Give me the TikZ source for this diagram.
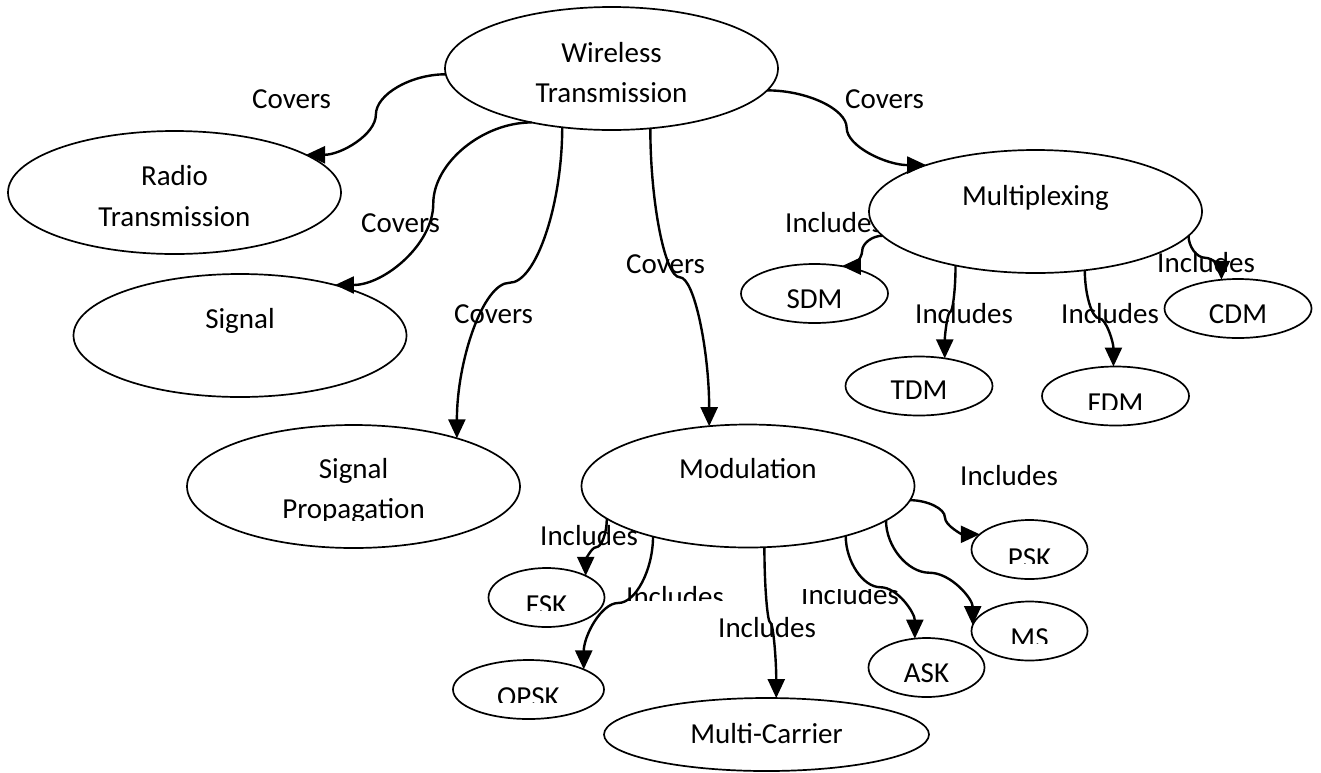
\documentclass[tikz,border=0pt]{standalone}
\usepackage{fontspec}
\setmainfont{Carlito}
\usetikzlibrary{arrows.meta,calc,shapes.geometric}

\tikzset{
  bubble/.style={ellipse, draw, line width=1.7pt, fill=white, inner sep=0pt, outer sep=0pt},
  big/.style={bubble, minimum width=333pt, minimum height=123pt},
  small/.style={bubble, minimum width=147pt, minimum height=59pt},
  tiny/.style={bubble, minimum width=116pt, minimum height=59pt},
  txt/.style={anchor=base, inner sep=0pt, font=\fontsize{29}{40}\selectfont},
  lbl/.style={anchor=base west, inner sep=0pt, font=\fontsize{29}{40}\selectfont},
  link/.style={line width=2.4pt, -{Triangle[length=19pt,width=17pt]}},
  % curved connector: horizontal at both ends, vertical in the middle
  hvh/.style={to path={let \p1=(\tikztostart), \p2=(\tikztotarget) in
     .. controls ({(3*\x1+\x2)/4},\y1) and ({(\x1+\x2)/2},{(3*\y1+\y2)/4}) ..
     ({(\x1+\x2)/2},{(\y1+\y2)/2})
     .. controls ({(\x1+\x2)/2},{(\y1+3*\y2)/4}) and ({(\x1+3*\x2)/4},\y2) .. (\tikztotarget)}},
  % curved connector: vertical at both ends, horizontal in the middle
  vhv/.style={to path={let \p1=(\tikztostart), \p2=(\tikztotarget) in
     .. controls (\x1,{(3*\y1+\y2)/4}) and ({(3*\x1+\x2)/4},{(\y1+\y2)/2}) ..
     ({(\x1+\x2)/2},{(\y1+\y2)/2})
     .. controls ({(\x1+3*\x2)/4},{(\y1+\y2)/2}) and (\x2,{(\y1+3*\y2)/4}) .. (\tikztotarget)}}
}

\begin{document}
\begin{tikzpicture}[x=1pt,y=-1pt]
\fill[white] (0,0) rectangle (1321,772);
\useasboundingbox (0,0) rectangle (1321,772);

% relation labels
\node[lbl] (c1) at (252,108) {Covers};
\node[lbl] (c2) at (361,232) {Covers};
\node[lbl] (c3) at (454,323) {Covers};
\node[lbl] (c4) at (626,273) {Covers};
\node[lbl] (c5) at (845,108) {Covers};
\node[lbl] (i1) at (785,232) {Includes};
\node[lbl] (i2) at (915,323) {Includes};
\node[lbl] (i3) at (1061,323) {Includes};
\node[lbl] (i4) at (1157,272) {Includes};
\node[lbl] (i5) at (960,485) {Includes};
\node[lbl] (i6) at (540,545) {Includes};
\begin{scope}
  \clip (600,570) rectangle (760,600);
  \node[lbl] (i7) at (626,606) {Includes};
\end{scope}
\node[lbl] (i8) at (718,637) {Includes};
\begin{scope}
  \clip (790,589) rectangle (920,625);
  \node[lbl] (i9) at (801,604) {Includes};
\end{scope}

% topic ellipses
\node[big] (wt) at (611.5,68.5) {};
\node[big] (radio) at (174.5,192.5) {};
\node[big] (signal) at (240,335.5) {};
\node[big] (sigprop) at (353.5,486.5) {};
\node[big] (mod) at (748,486) {};
\node[big] (mux) at (1035.5,211.5) {};
\node[small] (sdm) at (814.5,293.5) {};
\node[small] (tdm) at (919,386) {};
\node[small] (fdm) at (1115.5,396) {};
\node[small] (cdm) at (1238,308.5) {};
\node[tiny] (fsk) at (546.5,597.5) {};
\node[bubble, minimum width=151pt, minimum height=59pt] (opsk) at (528.5,689.5) {};
\node[bubble, minimum width=325pt, minimum height=73pt] (mc) at (766.5,734.5) {};
\node[tiny] (ask) at (926.5,667.5) {};
\node[tiny] (ms) at (1029.5,631) {};
\node[tiny] (psk) at (1029.5,549.5) {};

% ellipse texts
\node[txt] (wt-a) at (611.5,62) {Wireless};
\node[txt] (wt-b) at (611.5,102) {Transmission};
\node[txt] (radio-a) at (174.5,185) {Radio};
\node[txt] (radio-b) at (174.5,226) {Transmission};
\node[txt] (signal-a) at (240,328) {Signal};
\node[txt] (sigprop-a) at (353.5,478) {Signal};
\begin{scope}
  \clip (200,490) rectangle (500,520);
  \node[txt] (sigprop-b) at (353.5,518) {Propagation};
\end{scope}
\node[txt] (mod-a) at (748,478) {Modulation};
\node[txt] (mux-a) at (1035.5,205) {Multiplexing};
\node[txt] (sdm-a) at (814.5,308) {SDM};
\node[txt] (tdm-a) at (919,399) {TDM};
\begin{scope}
  \clip (1060,380) rectangle (1170,409);
  \node[txt] (fdm-a) at (1115.5,412) {FDM};
\end{scope}
\node[txt] (cdm-a) at (1238,323) {CDM};
\begin{scope}
  \clip (500,580) rectangle (600,610);
  \node[txt] (fsk-a) at (546.5,614) {FSK};
\end{scope}
\begin{scope}
  \clip (470,672) rectangle (590,702);
  \node[txt] (opsk-a) at (528.5,706) {OPSK};
\end{scope}
\begin{scope}
  \clip (985,530) rectangle (1075,563);
  \node[txt] (psk-a) at (1029.5,567) {PSK};
\end{scope}
\begin{scope}
  \clip (985,612) rectangle (1075,643);
  \node[txt] (ms-a) at (1029.5,647) {MS};
\end{scope}
\node[txt] (ask-a) at (926.5,682) {ASK};
\node[txt] (mc-a) at (766.5,743) {Multi-Carrier};

% connectors
\draw[link] (wt.182) to[hvh] (radio.16);
\draw[link] (wt.214) to[hvh] (signal.28);
\draw[link] (wt.230) to[vhv] (sigprop.25);
\draw[link] (wt.303) to[vhv] (mod.123);
\draw[link] (wt.352) to[hvh] (mux.157);
\draw[link] (mux.189) to[hvh] (sdm.45);
\draw[link] (mux.214) to[vhv] (tdm.47);
\draw[link] (mux.310) to[vhv] (fdm.94);
\draw[link] (mux.351) to[vhv] (cdm.120);
\draw[link] (mod.355) to[hvh] (psk.163);
\draw[link] (mod.346) to[vhv] (ms.174);
\draw[link] (mod.333) to[vhv] (ask.112);
\draw[link] (mod.285) to[vhv] (mc.75);
\draw[link] (mod.208) to[vhv] (opsk.20);
\draw[link] (mod.193) to[vhv] (fsk.29);
\end{tikzpicture}
\end{document}
